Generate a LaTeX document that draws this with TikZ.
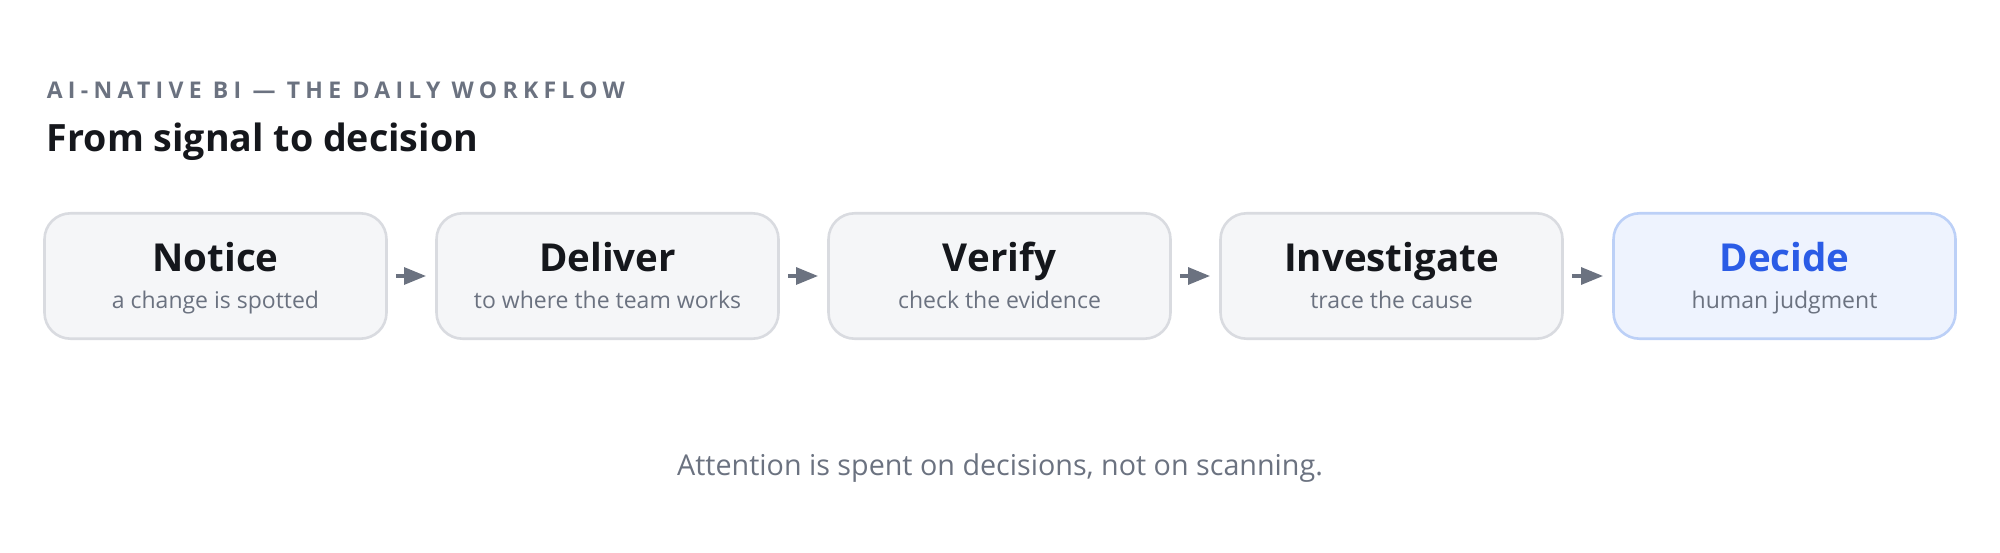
\documentclass[tikz,border=0pt]{standalone}
\usepackage{fontspec}
\setmainfont{Open Sans}
\usetikzlibrary{arrows.meta}
\definecolor{inkgray}{HTML}{6B7280}
\definecolor{inkdark}{HTML}{15171C}
\definecolor{cardfill}{HTML}{F5F6F8}
\definecolor{cardline}{HTML}{D9DBE0}
\definecolor{bluefill}{HTML}{EEF3FE}
\definecolor{blueline}{HTML}{BCD0F7}
\definecolor{blueink}{HTML}{2B5CE6}
\begin{document}
\begin{tikzpicture}[thick,
    card node/.style={rectangle,rounded corners=13pt,draw=cardline,fill=cardfill,line width=1.3pt,minimum width=171pt,minimum height=62.7pt,inner sep=0pt},
    last node/.style={card node,draw=blueline,fill=bluefill},
    head node/.style={anchor=base,inner sep=0pt,font=\bfseries\fontsize{19.25}{22}\selectfont,text=inkdark},
    sub node/.style={anchor=base,inner sep=0pt,font=\fontsize{11.5}{14}\selectfont,text=inkgray},
    flow/.style={draw=inkgray,fill=inkgray,line width=1.6pt,-{Triangle[length=11pt,width=8.5pt]},shorten <=4pt,shorten >=4.6pt}]
    \useasboundingbox (0,0) rectangle (1000pt,276pt);

    \node[anchor=base west,inner sep=0pt,text=inkgray,font=\bfseries\fontsize{11.5}{13}\selectfont\addfontfeature{LetterSpace=23}] (kicker) at (23pt,226.5pt) {AI-NATIVE BI — THE DAILY WORKFLOW};
    \node[anchor=base west,inner sep=0pt,text=inkdark,font=\bfseries\fontsize{18.8}{22}\selectfont] (title) at (23pt,200pt) {From signal to decision};

    \node[card node] at (107.75pt,138pt) (notice) {};
    \node[card node] at (303.75pt,138pt) (deliver) {};
    \node[card node] at (499.75pt,138pt) (verify) {};
    \node[card node] at (695.75pt,138pt) (investigate) {};
    \node[last node] at (892.25pt,138pt) (decide) {};

    \node[head node] at ([yshift=2pt]notice.center) (notice head) {Notice};
    \node[sub node] at ([yshift=-16.5pt]notice.center) (notice sub) {a change is spotted};
    \node[head node] at ([yshift=2pt]deliver.center) (deliver head) {Deliver};
    \node[sub node] at ([yshift=-16.5pt]deliver.center) (deliver sub) {to where the team works};
    \node[head node] at ([yshift=2pt]verify.center) (verify head) {Verify};
    \node[sub node] at ([yshift=-16.5pt]verify.center) (verify sub) {check the evidence};
    \node[head node] at ([yshift=2pt]investigate.center) (investigate head) {Investigate};
    \node[sub node] at ([yshift=-16.5pt]investigate.center) (investigate sub) {trace the cause};
    \node[head node,text=blueink] at ([yshift=2pt]decide.center) (decide head) {Decide};
    \node[sub node] at ([yshift=-16.5pt]decide.center) (decide sub) {human judgment};

    \path[flow]
        (notice) edge (deliver)
        (deliver) edge (verify)
        (verify) edge (investigate)
        (investigate) edge (decide)
        ;

    \node[anchor=base,inner sep=0pt,text=inkgray,font=\fontsize{14.35}{17}\selectfont] (footer) at (500pt,38.5pt) {Attention is spent on decisions, not on scanning.};
\end{tikzpicture}
\end{document}
